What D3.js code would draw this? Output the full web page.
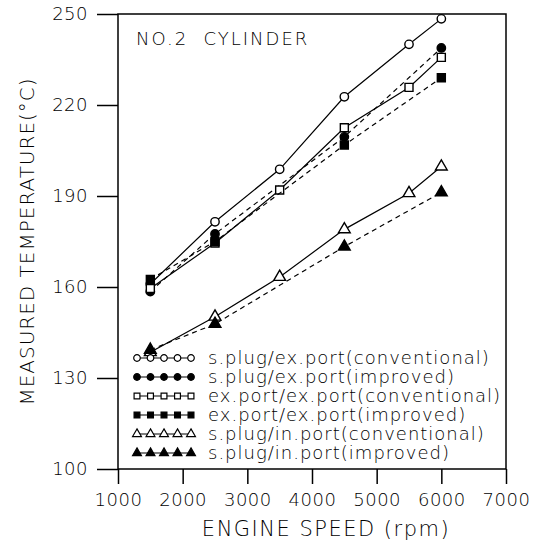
<!DOCTYPE html>
<html>
<head>
<meta charset="utf-8">
<script src="https://cdn.jsdelivr.net/npm/d3@7"></script>
<style>
  body { margin: 0; background: #fff; }
  text { font-family: "DejaVu Sans", sans-serif; font-weight: 200; fill: #000; }
</style>
</head>
<body>
<div id="chart"></div>
<script>
// engine speed (rpm) / measured temperature (deg C)
const sPlugExConv = [[1500, 161], [2500, 181.5], [3500, 198.8], [4500, 222.7], [5500, 240], [6000, 248.4]];
const sPlugExImp = [[1500, 158.5], [2500, 177.5], [4500, 209.5], [6000, 238.8]];
const exExConv = [[1500, 159.5], [2500, 174.5], [3500, 192], [4500, 212.5], [5500, 225.8], [6000, 235.7]];
const exExImp = [[1500, 162.5], [2500, 175], [4500, 206.8], [6000, 229]];
const sPlugInConv = [[1500, 138.5], [2500, 150.2], [3500, 163.3], [4500, 179], [5500, 190.9], [6000, 199.7]];
const sPlugInImp = [[1500, 139.3], [2500, 147.8], [4500, 173.3], [6000, 191.2]];

const seriesNames = [
  "s.plug/ex.port(conventional)",
  "s.plug/ex.port(improved)",
  "ex.port/ex.port(conventional)",
  "ex.port/ex.port(improved)",
  "s.plug/in.port(conventional)",
  "s.plug/in.port(improved)",
];
const xTicks = [1000, 2000, 3000, 4000, 5000, 6000, 7000];
const yTicks = [100, 130, 160, 190, 220, 250];

const chart = { width: 545, height: 544, top: 14, right: 39, bottom: 75, left: 118 };

const series = [
  { name: seriesNames[0], data: sPlugExConv, shape: "circle", filled: false, dashed: false },
  { name: seriesNames[1], data: sPlugExImp, shape: "circle", filled: true, dashed: true },
  { name: seriesNames[2], data: exExConv, shape: "square", filled: false, dashed: false },
  { name: seriesNames[3], data: exExImp, shape: "square", filled: true, dashed: true },
  { name: seriesNames[4], data: sPlugInConv, shape: "triangle", filled: false, dashed: false },
  { name: seriesNames[5], data: sPlugInImp, shape: "triangle", filled: true, dashed: true },
];

const svg = d3
  .select("#chart")
  .append("svg")
  .attr("width", chart.width)
  .attr("height", chart.height);

var x = d3
  .scaleLinear()
  .domain([1000, 7000])
  .range([chart.left, chart.width - chart.right]);

var y = d3
  .scaleLinear()
  .domain([100, 250])
  .range([chart.height - chart.bottom, chart.top]);

/* frame */
svg
  .append("rect")
  .attr("x", x(1000))
  .attr("y", y(250))
  .attr("width", x(7000) - x(1000))
  .attr("height", y(100) - y(250))
  .attr("fill", "none")
  .attr("stroke", "#000")
  .attr("stroke-width", 1.5);

var xAxis = (g) =>
  g
    .attr("transform", `translate(0, ${y(100)})`)
    .call(
      d3.axisBottom(x).tickValues(xTicks).tickFormat(d3.format("d"))
        .tickSize(15).tickPadding(9).tickSizeOuter(0)
    )
    .call((g) => g.select(".domain").remove());

var yAxis = (g) =>
  g
    .attr("transform", `translate(${x(1000)}, 0)`)
    .call(d3.axisLeft(y).tickValues(yTicks).tickSize(21).tickPadding(9).tickSizeOuter(0))
    .call((g) => g.select(".domain").remove());

svg.append("g").call(xAxis);
svg.append("g").call(yAxis);

svg.selectAll(".tick line").attr("stroke", "#000").attr("stroke-width", 1.5);
svg
  .selectAll(".tick text")
  .attr("font-size", 18)
  .attr("font-family", "DejaVu Sans")
  .style("letter-spacing", "0.5px");

/* axis titles */
svg
  .append("text")
  .attr("transform", `translate(34, ${(y(100) + y(250)) / 2}) rotate(-90)`)
  .attr("text-anchor", "middle")
  .attr("font-size", 20)
  .style("letter-spacing", "1px")
  .text("MEASURED TEMPERATURE(°C)");

svg
  .append("text")
  .attr("x", 326)
  .attr("y", 536)
  .attr("text-anchor", "middle")
  .attr("font-size", 21)
  .style("letter-spacing", "1.5px")
  .text("ENGINE SPEED (rpm)");

svg
  .append("text")
  .attr("x", 136)
  .attr("y", 45)
  .attr("font-size", 18)
  .style("letter-spacing", "2px")
  .style("white-space", "pre")
  .text("NO.2  CYLINDER");

const shapes = { circle: d3.symbolCircle, square: d3.symbolSquare, triangle: d3.symbolTriangle };
const markerSize = { circle: 55, square: 64, triangle: 60 };

function plotSeries(s) {
  const line = d3
    .line()
    .x((d) => x(d[0]))
    .y((d) => y(d[1]));

  svg
    .append("path")
    .datum(s.data)
    .attr("fill", "none")
    .attr("stroke", "#000")
    .attr("stroke-width", 1.2)
    .attr("stroke-dasharray", s.dashed ? "5,4" : null)
    .attr("d", line);

  svg
    .append("g")
    .selectAll("path")
    .data(s.data)
    .join("path")
    .attr("transform", (d) => `translate(${x(d[0])}, ${y(d[1])})`)
    .attr("d", d3.symbol().type(shapes[s.shape]).size(markerSize[s.shape])())
    .attr("fill", s.filled ? "#000" : "#fff")
    .attr("stroke", "#000")
    .attr("stroke-width", 1.4);
}

series.forEach(plotSeries);

/* legend */
const legend = svg.append("g");
const legendX = d3.scaleLinear().domain([0, 4]).range([137, 191]);
series.forEach((s, i) => {
  const ly = 358 + i * 19;
  const row = legend.append("g");
  row
    .append("line")
    .attr("x1", legendX(0))
    .attr("x2", legendX(4))
    .attr("y1", ly)
    .attr("y2", ly)
    .attr("stroke", "#000")
    .attr("stroke-width", 1.2);
  row
    .selectAll("path")
    .data(d3.range(5))
    .join("path")
    .attr("transform", (k) => `translate(${legendX(k)}, ${ly})`)
    .attr("d", d3.symbol().type(shapes[s.shape]).size(34)())
    .attr("fill", s.filled ? "#000" : "#fff")
    .attr("stroke", "#000")
    .attr("stroke-width", 1.2);
  row
    .append("text")
    .attr("x", 208)
    .attr("y", ly + 6)
    .attr("font-size", 18)
    .style("letter-spacing", "1px")
    .text(s.name);
});
</script>
</body>
</html>
